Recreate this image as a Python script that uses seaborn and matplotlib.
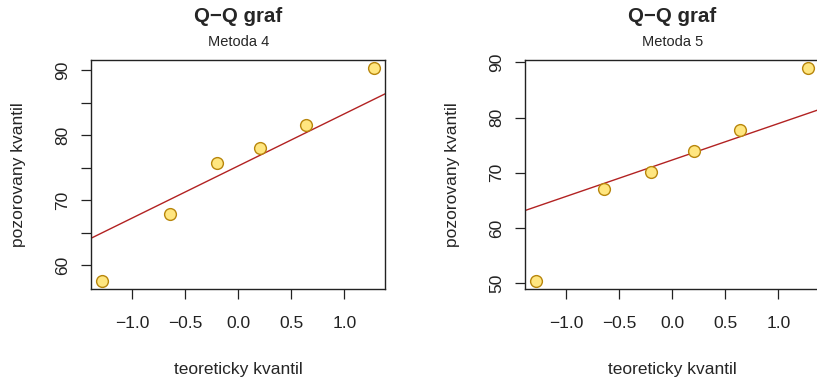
import numpy as np
import pandas as pd
import matplotlib
matplotlib.use("Agg")
import matplotlib.pyplot as plt
import seaborn as sns

sns.set_style("white")
plt.rcParams['font.family'] = ['Liberation Sans', 'DejaVu Sans']

theoretical = [-1.2816, -0.6433, -0.2019, 0.2019, 0.6433, 1.2816]
metoda4 = [57.65, 67.9, 75.8, 78.0, 81.6, 90.3]
metoda5 = [50.5, 67.1, 70.2, 74.0, 77.7, 88.9]
subtitles = ["Metoda 4", "Metoda 5"]
series = [metoda4, metoda5]
x_ticks = [-1.0, -0.5, 0.0, 0.5, 1.0]
y_ticks = [[60, 65, 70, 75, 80, 85, 90], [50, 60, 70, 80, 90]]
y_ticklabels = [["60", "", "70", "", "80", "", "90"], ["50", "60", "70", "80", "90"]]

fig = plt.figure(figsize=(8.17, 3.81), dpi=100)
positions = [[0.1118, 0.2415, 0.3595, 0.601], [0.643, 0.2415, 0.3595, 0.601]]

line_col = "#B22222"
fill_col = "#FFE680"
edge_col = "#B8860B"

for pos, vals, sub, yt, ytl in zip(positions, series, subtitles, y_ticks, y_ticklabels):
    ax = fig.add_axes(pos)
    df = pd.DataFrame({"teor": theoretical, "poz": vals})
    sns.scatterplot(data=df, x="teor", y="poz", ax=ax, s=72, color=fill_col,
                    edgecolor=edge_col, linewidth=1.0, zorder=3)
    # R-style ranges (4% extension)
    xr = max(theoretical) - min(theoretical)
    xlim = (min(theoretical) - 0.04 * xr, max(theoretical) + 0.04 * xr)
    yr = max(vals) - min(vals)
    ylim = (min(vals) - 0.04 * yr, max(vals) + 0.04 * yr)
    # qqline through quartiles
    q1, q3 = np.percentile(vals, [25, 75])
    z1, z3 = -0.6744898, 0.6744898
    slope = (q3 - q1) / (z3 - z1)
    intercept = q1 - slope * z1
    ax.axline((0, intercept), slope=slope, color=line_col, lw=1.0, zorder=2)
    ax.set_xlim(xlim)
    ax.set_ylim(ylim)
    ax.set_xticks(x_ticks)
    ax.set_xticklabels(["\u22121.0", "\u22120.5", "0.0", "0.5", "1.0"])
    ax.set_yticks(yt)
    ax.set_yticklabels(ytl, rotation=90, va="center")
    ax.tick_params(axis="both", direction="out", length=7.5, width=0.9, colors="#222222",
                   labelsize=12.5, bottom=True, left=True)
    ax.tick_params(axis="x", pad=12)
    ax.tick_params(axis="y", pad=8)
    for sp in ax.spines.values():
        sp.set_visible(True)
        sp.set_color("#222222")
        sp.set_linewidth(1.0)
    ax.set_xlabel("teoreticky kvantil", fontsize=12.5, labelpad=22)
    ax.set_ylabel("pozorovany kvantil", fontsize=12.5, labelpad=21)
    ax.text(0.5, 1.0 + 43.5 / 229, "Q\u2212Q graf", transform=ax.transAxes, ha="center",
            va="center", fontsize=14.8, fontweight="bold")
    ax.text(0.5, 1.0 + 18 / 229, sub, transform=ax.transAxes, ha="center",
            va="center", fontsize=10.5)
    ax.grid(False)

fig.savefig("out.png", dpi=100)
